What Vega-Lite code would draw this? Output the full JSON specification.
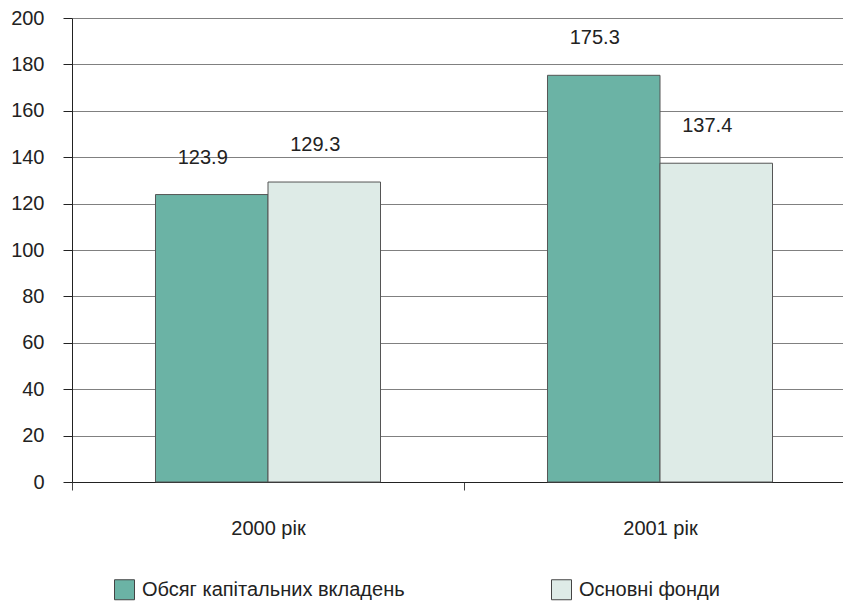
{
  "$schema": "https://vega.github.io/schema/vega-lite/v6.json",
  "width": 771,
  "height": 464,
  "autosize": {"type": "none"},
  "padding": {"left": 72, "top": 18, "right": 0, "bottom": 121},
  "background": "white",
  "config": {
    "view": {"stroke": null},
    "font": "Liberation Sans",
    "axis": {"labelFont": "Liberation Sans", "labelColor": "#222", "labelFontSize": 20}
  },
  "data": {
    "values": [
      {"year": "2000 рік", "series": "Обсяг капітальних вкладень", "value": 123.9},
      {"year": "2000 рік", "series": "Основні фонди", "value": 129.3},
      {"year": "2001 рік", "series": "Обсяг капітальних вкладень", "value": 175.3},
      {"year": "2001 рік", "series": "Основні фонди", "value": 137.4}
    ]
  },
  "encoding": {
    "x": {
      "field": "year", "type": "nominal",
      "scale": {"range": [0, 784], "paddingInner": 0.426, "paddingOuter": 0.213},
      "axis": {
        "title": null, "labelAngle": 0, "labelPadding": 28, "tickSize": 8,
        "tickOffset": -196, "labelOffset": 196,
        "domainColor": "#222", "tickColor": "#444", "labelFontSize": 20
      }
    },
    "xOffset": {"field": "series", "type": "nominal", "sort": ["Обсяг капітальних вкладень", "Основні фонди"]},
    "y": {
      "field": "value", "type": "quantitative",
      "scale": {"domain": [0, 200]},
      "axis": {
        "title": null, "values": [0, 20, 40, 60, 80, 100, 120, 140, 160, 180, 200],
        "grid": true, "gridColor": "#808080", "gridWidth": 1.2,
        "domainColor": "#222", "tickColor": "#222", "tickSize": 9, "labelPadding": 19
      }
    }
  },
  "layer": [
    {
      "mark": {"type": "bar", "stroke": "#555", "strokeWidth": 1},
      "encoding": {
        "color": {
          "field": "series", "type": "nominal",
          "sort": ["Обсяг капітальних вкладень", "Основні фонди"],
          "scale": {"domain": ["Обсяг капітальних вкладень", "Основні фонди"], "range": ["#6bb3a5", "#deebe7"]},
          "legend": {
            "title": null, "orient": "none", "legendX": 42, "legendY": 561,
            "direction": "horizontal", "columns": 2, "columnPadding": 144,
            "symbolType": "square", "symbolSize": 400, "symbolStrokeColor": "#444", "symbolStrokeWidth": 1,
            "labelFontSize": 20, "labelFont": "Liberation Sans", "labelColor": "#222", "labelOffset": 7, "labelLimit": 400
          }
        }
      }
    },
    {
      "mark": {"type": "text", "baseline": "alphabetic", "dy": -31, "dx": -9, "fontSize": 20, "color": "#222", "font": "Liberation Sans"},
      "encoding": {
        "text": {"field": "value", "type": "quantitative", "format": ".1f"}
      }
    }
  ]
}
